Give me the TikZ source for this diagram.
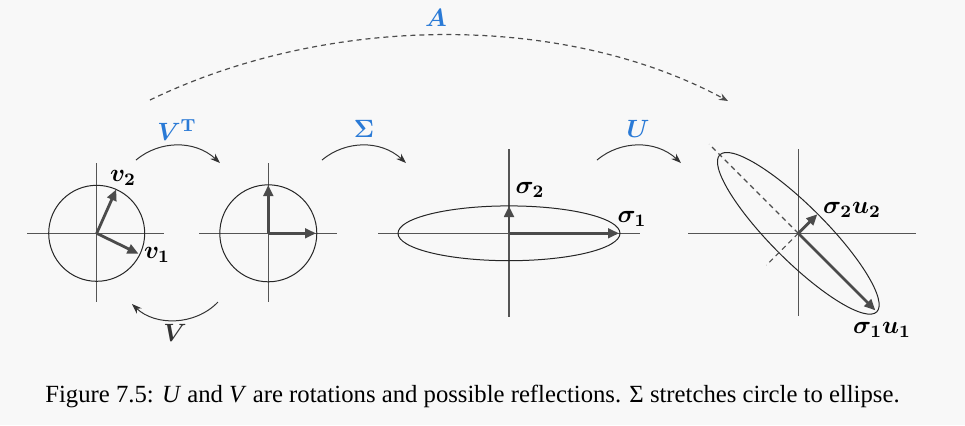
\RequirePackage{fix-cm}
\documentclass[tikz,border=0pt]{standalone}
\usepackage{amsmath}
\usepackage[no-math]{fontspec}
\setmainfont{Liberation Serif}
\usetikzlibrary{arrows.meta}
\definecolor{bgc}{RGB}{248,248,248}
\definecolor{axc}{RGB}{85,85,85}
\definecolor{vecc}{RGB}{75,75,75}
\definecolor{bluec}{RGB}{42,122,214}
\tikzset{
  x=0.5pt, y=-0.5pt,
  axis/.style={draw=axc, line width=0.75pt},
  curve/.style={draw=black!85, line width=0.5pt},
  vec/.style={draw=vecc, line width=1.4pt, -{Triangle[length=5.5pt,width=4.8pt]}},
  turn/.style={draw=black!80, line width=0.5pt, -{Stealth[length=5pt,width=3.6pt]}},
  dashline/.style={draw=black!70, line width=0.6pt, dash pattern=on 2.5pt off 2pt},
  lab/.style={inner sep=0pt, font=\boldmath\fontsize{12.5}{15}\selectfont},
  blab/.style={inner sep=0pt, text=bluec, font=\boldmath\fontsize{12.5}{15}\selectfont},
}
\begin{document}
\begin{tikzpicture}
\fill[bgc] (0,0) rectangle (965,425);
\useasboundingbox (0,0) rectangle (965,425);

% ---- panel 1
\coordinate (c1) at (96.7,233.3);
\draw[axis] (27,233.3) -- (164,233.3);
\draw[axis] (96.7,163) -- (96.7,302);
\draw[curve] (c1) circle[radius=48];
\draw[vec] (c1) -- ++(-66:48) coordinate (v2e);
\draw[vec] (c1) -- ++(26:46.5) coordinate (v1e);
\node[lab] (v2) at (123,178) {$v_2$};
\node[lab] (v1) at (157,255) {$v_1$};

% ---- panel 2
\coordinate (c2) at (268.3,233.3);
\draw[axis] (199,233.3) -- (337,233.3);
\draw[axis] (268.3,163) -- (268.3,302);
\draw[curve] (c2) circle[radius=48.5];
\draw[vec] (c2) -- (268.3,185);
\draw[vec] (c2) -- (316,233.3);

% ---- panel 3
\coordinate (c3) at (509,233.3);
\draw[axis] (378,233.3) -- (640,233.3);
\draw[axis] (509,149) -- (509,317);
\draw[curve] (c3) ellipse[x radius=111, y radius=27.4];
\draw[vec] (c3) -- (509,206);
\draw[vec] (c3) -- (619,233.3);
\node[lab] (s2) at (530,190) {$\sigma_2$};
\node[lab] (s1) at (632,219) {$\sigma_1$};

% ---- panel 4
\coordinate (c4) at (798.3,233.3);
\draw[axis] (688,233.3) -- (916,233.3);
\draw[axis] (798.3,149) -- (798.3,316);
\draw[curve, rotate around={-45:(c4)}] (c4) ellipse[x radius=111, y radius=27.4];
\draw[dashline] (c4) -- ++(-135:126);
\draw[dashline] (c4) -- ++(135:45);
\draw[vec] (c4) -- ++(-45:27);
\draw[vec] (c4) -- ++(45:109);
\node[lab] (s2u2) at (852,210) {$\sigma_2u_2$};
\node[lab] (s1u1) at (882,330) {$\sigma_1u_1$};

% ---- turning arrows
\coordinate (a1s) at (136,160); \coordinate (a1e) at (220,163);
\draw[turn] (a1s) .. controls (160,140) and (195,140) .. (a1e);
\node[blab] (VT) at (177,130) {$V^{\mathrm{T}}$};

\coordinate (a2s) at (218,302); \coordinate (a2e) at (132,304);
\draw[turn] (a2s) .. controls (195,326) and (155,326) .. (a2e);
\node[lab, text=black!80] (V) at (175,333) {$V$};

\coordinate (a3s) at (322,160); \coordinate (a3e) at (406,163);
\draw[turn] (a3s) .. controls (346,140) and (381,140) .. (a3e);
\node[blab] (Sig) at (364,129) {$\Sigma$};

\coordinate (a4s) at (597,160); \coordinate (a4e) at (681,163);
\draw[turn] (a4s) .. controls (621,140) and (656,140) .. (a4e);
\node[blab] (U) at (638,129) {$U$};

% ---- A arc
\coordinate (As) at (150,100); \coordinate (Ae) at (728,101);
\draw[dashline, -{Stealth[length=4.5pt,width=3.5pt]}] (As) .. controls (330,13) and (565,13) .. (Ae);
\node[blab] (A) at (436,18) {$A$};

% ---- caption
\node[anchor=west, inner sep=0pt, font=\fontsize{12.35}{15}\selectfont] (cap) at (45,396)
  {Figure 7.5: \textit{U} and \textit{V} are rotations and possible reflections. Σ stretches circle to ellipse.};
\end{tikzpicture}
\end{document}
